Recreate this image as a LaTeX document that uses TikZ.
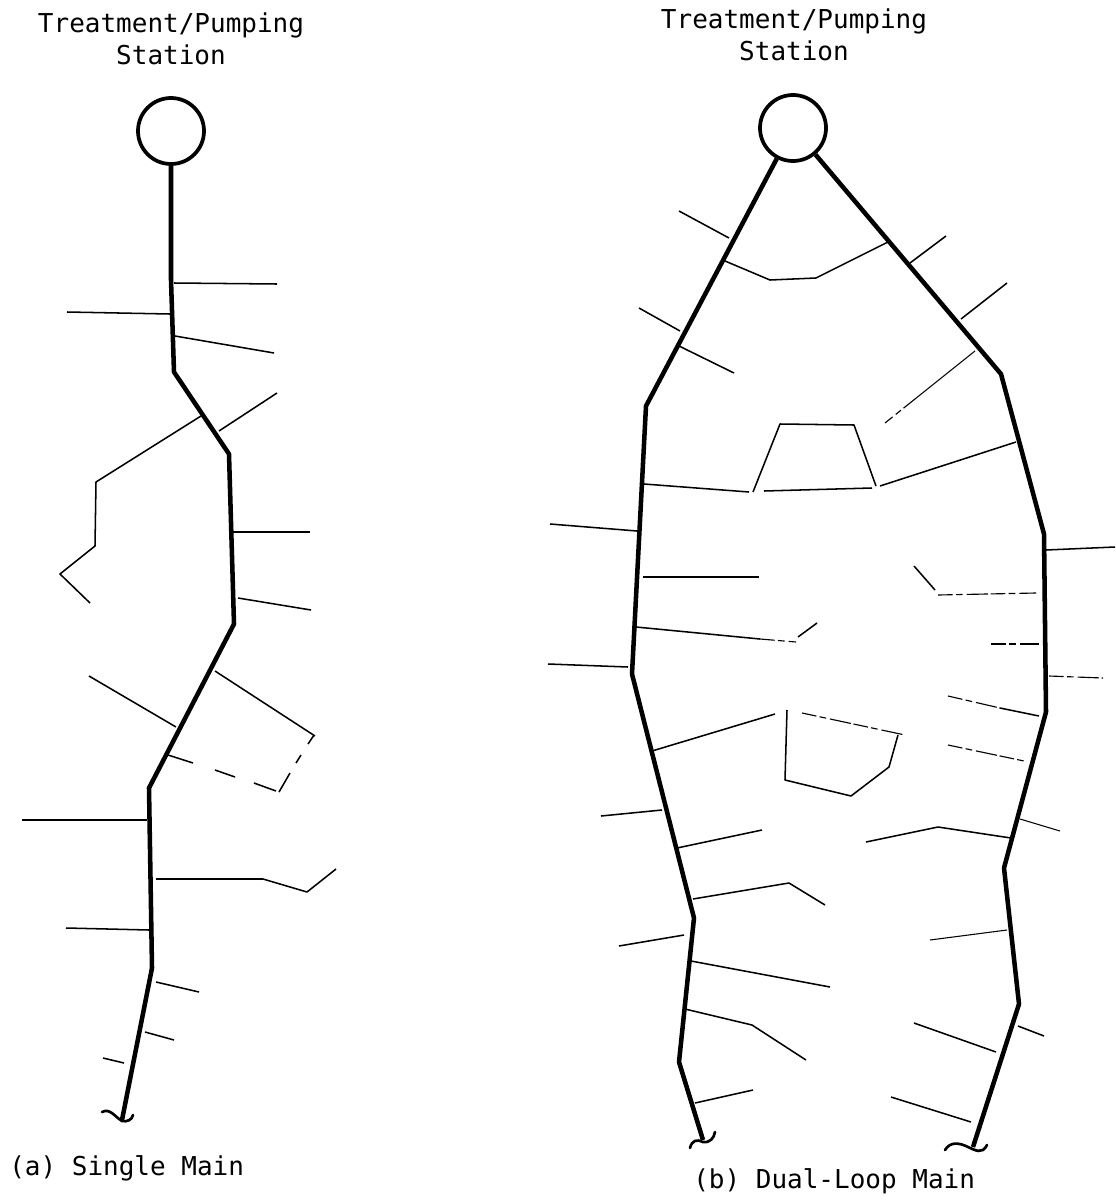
\documentclass[tikz,border=0pt]{standalone}
\usepackage{fontspec}
\setmonofont{DejaVu Sans Mono}
\tikzset{
 main/.style={line width=3.4pt,line join=round,black},
 squig/.style={line width=2pt,line cap=round,black},
 branch/.style={line width=1.15pt,line join=round,black},
 fine/.style={line width=0.8pt,line join=round,black},
 broken/.style={line width=0.85pt,black,dash pattern=on 11pt off 2.5pt on 5pt off 3pt on 16pt off 2pt},
 station/.style={circle,draw,line width=2.8pt,minimum size=49.5pt,inner sep=0pt,fill=white},
 lab/.style={font=\ttfamily\fontsize{19.5}{24}\selectfont,align=center,inner sep=0pt,black},
}
\begin{document}
\begin{tikzpicture}[x=0.75pt,y=-0.75pt]
\useasboundingbox (0,0) rectangle (1115,1203);
% labels
\node[lab] (ta) at (171,39) {Treatment/Pumping\\Station};
\node[lab] (tb) at (794,35) {Treatment/Pumping\\Station};
\node[lab,anchor=base west] (ca) at (9,1175) {(a) Single Main};
\node[lab,anchor=base west] (cb) at (693,1188) {(b) Dual-Loop Main};
% stations
\node[station] (sa) at (171,131) {};
\node[station] (sb) at (793,128) {};
% single main
\draw[main] (sa) -- (171,280) -- (174,372) -- (229,454) -- (234,624) -- (149,788) -- (152,968) -- (122,1120);
\draw[squig] (102,1112) .. controls (110,1108) and (114,1116) .. (122,1121) .. controls (127,1122) and (132,1120) .. (133,1115);
\draw[branch] (174,283) -- (277,284);
\draw[branch] (67,312) -- (170,314);
\draw[branch] (175,336) -- (274,353);
\draw[branch] (277,393) -- (219,431);
\draw[branch] (201,416) -- (96,482) -- (95,546) -- (60,574) -- (90,603);
\draw[branch] (233,532) -- (310,532);
\draw[branch] (238,598) -- (311,610);
\draw[branch] (215,671) -- (315,736);
\draw[branch] (89,676) -- (176,727);
\draw[branch] (168,755) -- (193,763);
\draw[branch] (215,770) -- (235,777);
\draw[branch] (254,783) -- (276,791);
\draw[branch] (279,792) -- (290,773);
\draw[branch] (296,763) -- (301,755);
\draw[branch] (308,744) -- (314,735);
\draw[branch] (22,820) -- (147,820);
\draw[branch] (156,879) -- (263,879) -- (307,892) -- (336,869);
\draw[branch] (66,928) -- (149,930);
\draw[branch] (156,982) -- (199,992);
\draw[branch] (145,1032) -- (174,1040);
\draw[branch] (103,1058) -- (124,1063);
% dual loop left
\draw[main] (sb) -- (646,406) -- (632,674) -- (694,918) -- (679,1062) -- (703,1140);
\draw[squig] (690,1148) .. controls (692,1140) and (697,1139) .. (703,1142) .. controls (710,1143) and (714,1138) .. (715,1132);
% dual loop right
\draw[main] (sb) -- (1001,374) -- (1044,534) -- (1046,712) -- (1004,868) -- (1019,1004) -- (973,1147);
\draw[squig] (945,1150) .. controls (950,1142) and (958,1142) .. (968,1147) .. controls (975,1150) and (982,1155) .. (987,1145);
% left side branches
\draw[branch] (679,211) -- (729,238);
\draw[branch] (725,261) -- (770,280) -- (816,278) -- (890,241);
\draw[branch] (639,308) -- (680,331);
\draw[branch] (677,345) -- (734,373);
\draw[branch] (644,484) -- (749,492);
\draw[branch] (753,492) -- (780,424) -- (854,425) -- (876,486);
\draw[branch] (764,491) -- (872,488);
\draw[branch] (880,486) -- (1016,442);
\draw[branch] (550,524) -- (637,531);
\draw[fine] (643,577) -- (759,577);
\draw[branch] (636,627) -- (760,639);
\draw[broken] (760,639) -- (796,642);
\draw[branch] (798,637) -- (817,623);
\draw[branch] (548,664) -- (628,667);
\draw[branch] (652,751) -- (775,714);
\draw[branch] (787,710) -- (785,780) -- (851,796) -- (889,767) -- (898,735);
\draw[broken] (802,713) -- (905,735);
\draw[branch] (601,816) -- (662,810);
\draw[branch] (677,848) -- (762,830);
\draw[branch] (693,899) -- (789,883) -- (825,905);
\draw[branch] (619,946) -- (684,935);
\draw[branch] (691,961) -- (830,987);
\draw[branch] (685,1009) -- (752,1025) -- (806,1060);
\draw[branch] (695,1103) -- (753,1090);
% right side branches
\draw[branch] (910,263) -- (946,236);
\draw[branch] (961,319) -- (1007,283);
\draw[fine] (975,351) -- (915,399);
\draw[broken] (915,399) -- (885,423);
\draw[branch] (1046,550) -- (1115,547);
\draw[branch] (914,566) -- (935,590);
\draw[broken] (938,595) -- (1036,593);
\draw[broken] (991,644) -- (1039,644);
\draw[broken] (1049,676) -- (1103,678);
\draw[broken] (948,696) -- (1000,708);
\draw[branch] (1000,708) -- (1039,716);
\draw[broken] (948,745) -- (1024,761);
\draw[branch] (866,842) -- (938,827) -- (1011,838);
\draw[fine] (1020,819) -- (1060,831);
\draw[fine] (930,940) -- (1007,930);
\draw[branch] (914,1023) -- (996,1052);
\draw[branch] (1018,1026) -- (1044,1036);
\draw[branch] (891,1097) -- (971,1122);
\end{tikzpicture}
\end{document}
